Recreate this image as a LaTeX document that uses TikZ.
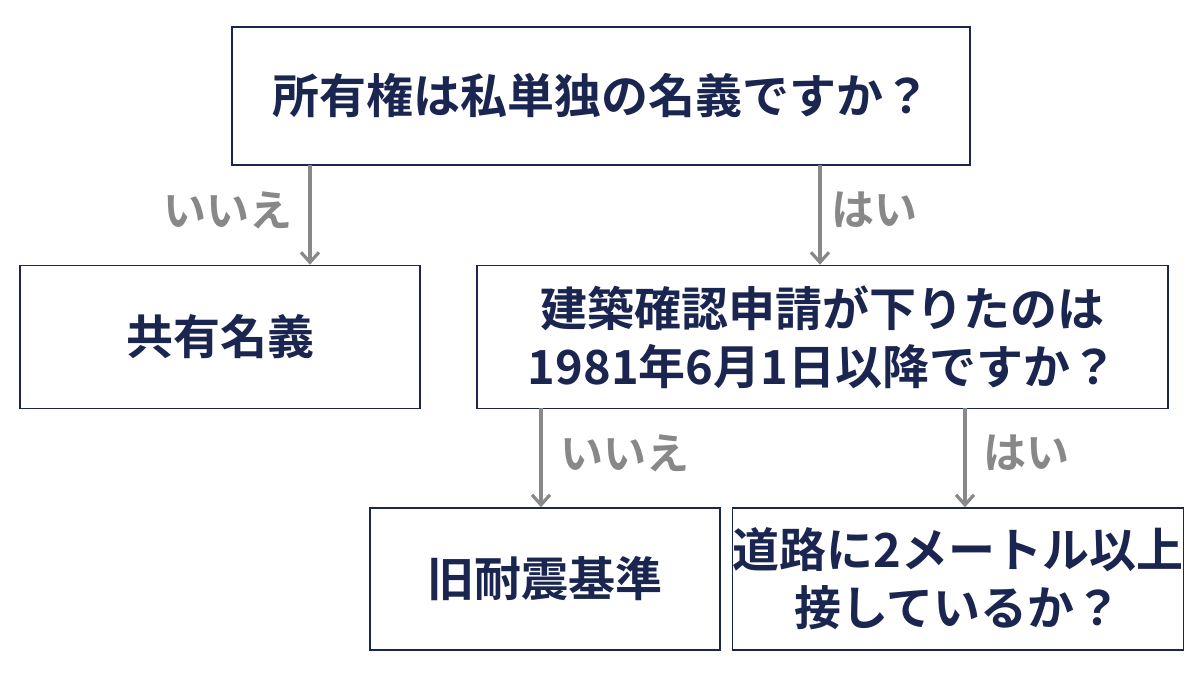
\documentclass[tikz,border=0pt]{standalone}
\usepackage{fontspec}
\setmainfont{Noto Sans CJK JP}[BoldFont={* Bold}]
\usetikzlibrary{arrows.meta}
\definecolor{navy}{HTML}{1A2550}
\definecolor{arrowgray}{HTML}{888888}
\tikzset{
  box/.style={draw=navy,line width=0.8pt,fill=white,text=navy,font=\bfseries\fontsize{23.5}{29}\selectfont,align=center,inner sep=0pt},
  flow/.style={-{Straight Barb[length=5pt,width=9pt]},draw=arrowgray,line width=1.6pt},
  answer/.style={text=arrowgray,font=\bfseries\fontsize{21.5}{26}\selectfont}
}
\begin{document}
\begin{tikzpicture}[x=0.5pt,y=-0.5pt]
    \useasboundingbox (0,0) rectangle (1200,675);

    % boxes
    \node[box,minimum width=369pt,minimum height=69pt] (owner) at (601,96) {所有権は私単独の名義ですか？};
    \node[box,minimum width=200pt,minimum height=71.5pt] (shared) at (220,337) {共有名義};
    \node[box,minimum width=345.5pt,minimum height=71.5pt] (permit) at (822.5,337) {建築確認申請が下りたのは\\1981年6月1日以降ですか？};
    \node[box,minimum width=175pt,minimum height=71pt] (old) at (545,579) {旧耐震基準};
    \node[box,minimum width=210pt,minimum height=71pt] (road) at (958,579) {道路に2メートル以上\\接しているか？};

    % arrow ends
    \coordinate (o1) at (310,165);
    \coordinate (o2) at (820,165);
    \coordinate (p1) at (541,408);
    \coordinate (p2) at (965,408);

    % arrows
    \draw[flow] (o1) -- (o1 |- shared.north);
    \draw[flow] (o2) -- (o2 |- permit.north);
    \draw[flow] (p1) -- (p1 |- old.north);
    \draw[flow] (p2) -- (p2 |- road.north);

    % answers
    \node[answer] (no1) at (228,210) {いいえ};
    \node[answer] (yes1) at (874,210) {はい};
    \node[answer] (no2) at (625,453) {いいえ};
    \node[answer] (yes2) at (1026,453) {はい};
\end{tikzpicture}
\end{document}
